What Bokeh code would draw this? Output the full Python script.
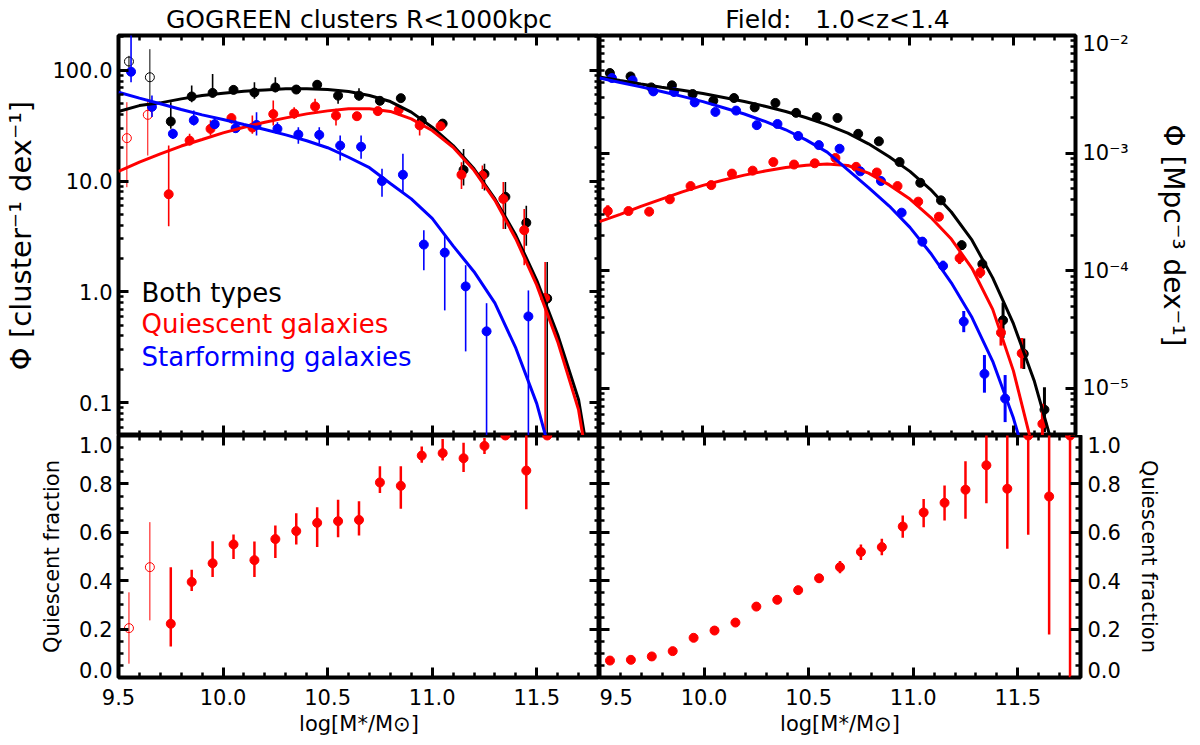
import math
from bokeh.plotting import figure
from bokeh.layouts import column, row
from bokeh.models import (ColumnDataSource, LinearAxis, LogAxis, Label, Title,
                          SingleIntervalTicker, FixedTicker, PrintfTickFormatter,
                          CustomJSTickFormatter)
from bokeh.embed import file_html
from bokeh.resources import INLINE

FONT = "DejaVu Sans"
RED, BLUE, BLACK = "#ff0000", "#0000ff", "#000000"
nan = float("nan")

# stellar mass bins, log(M*/Msun)
mass = [9.55, 9.65, 9.75, 9.85, 9.95, 10.05, 10.15, 10.25, 10.35, 10.45, 10.55,
        10.65, 10.75, 10.85, 10.95, 11.05, 11.15, 11.25, 11.35, 11.45, 11.55,
        11.65, 11.75]

# ---- GOGREEN clusters R<1000kpc, cluster^-1 dex^-1 (bins 9.55 .. 11.55)
clu_open = [1, 1, 0, 0, 0, 0, 0, 0, 0, 0, 0, 0, 0, 0, 0, 0, 0, 0, 0, 0, 0]
clu_all = [120, 86.5, 34.5, 58, 62.5, 66.5, 63, 70, 67, 74, 59, 59, 53, 56, 35, 33,
           12.6, 11.6, 7.2, 4.2, 0.87]
clu_all_hi = [135, 155, 51.5, 72.8, 92.7, 72.8, 78, 86.5, 72.8, 80.7, 67, 68.9, 57,
              61.2, 39, 35.3, 19.5, 14.3, 9.8, 6.0, 1.86]
clu_all_lo = [105, 50, 29.6, 51.5, 57.2, 61.2, 55.2, 63.4, 63.4, 67, 49.8, 53.3, 49.8,
              53.3, 31.8, 31.3, 9.1, 8.2, 3.7, 2.6, 0.01]
clu_q = [24.4, 39.6, 7.6, 23.2, 29.6, 37, 30.4, 40.2, 40.7, 47.1, 39, 38.5, 42.8, 44,
         31.8, 31.3, 11.4, 11.2, 6.9, 3.6, 0.88]
clu_q_hi = [51.5, 55.2, 20.9, 26.7, 35.3, 40.5, 39, 53.3, 46.4, 55.2, 44.9, 40.6, 45.5,
            48.1, 37.7, 34, 14.8, 13.8, 9.8, 5.6, 1.86]
clu_q_lo = [8.8, 17, 3.9, 20.9, 25.8, 32.9, 26.7, 31.8, 36.5, 40.6, 31.8, 36.5, 39, 39,
            25.8, 28.6, 8.5, 8.5, 3.7, 1.74, 0.01]
clu_sf = [97, 46.8, 26.7, 35.4, 32.6, 30, 32.1, 29.6, 26.3, 26.1, 20.9, 20.4, 10, 11.4,
          2.67, 2.26, 1.12, 0.44, nan, 0.6, nan]
clu_sf_hi = [300, 59.2, 29.6, 43.4, 36.5, 35.3, 41.9, 34, 30.6, 30.6, 25.8, 25.8, 12.9,
             17.6, 3.6, 3.24, 1.74, 0.79, nan, 1.03, nan]
clu_sf_lo = [78, 37.8, 24, 31.8, 29.6, 27.6, 25.8, 26.7, 21.7, 21.7, 15.3, 15.9, 7.2,
             7.7, 1.57, 0.68, 0.29, 0.01, nan, 0.01, nan]
clu_fq = [0.204, 0.456, 0.222, 0.395, 0.472, 0.550, 0.485, 0.572, 0.605, 0.639, 0.646,
          0.651, 0.806, 0.792, 0.917, 0.927, 0.906, 0.957, 1.0, 0.855, 1.0]
clu_fq_hi = [0.352, 0.642, 0.456, 0.445, 0.563, 0.591, 0.562, 0.628, 0.679, 0.704, 0.734,
             0.728, 0.873, 0.873, 0.955, 0.986, 0.970, 0.990, 1.0, 1.05, 1.0]
clu_fq_lo = [0.057, 0.236, 0.128, 0.357, 0.415, 0.490, 0.415, 0.494, 0.550, 0.539, 0.580,
             0.587, 0.762, 0.697, 0.887, 0.897, 0.849, 0.924, 1.0, 0.695, 1.0]

# ---- Field 1.0<z<1.4, Mpc^-3 dex^-1 (bins 9.55 .. 11.75), errors in dex
fld_all = [4.8e-3, 4.49e-3, 3.62e-3, 3.77e-3, 3.18e-3, 2.79e-3, 2.94e-3, 2.45e-3, 2.67e-3,
           2.2e-3, 2.02e-3, 1.99e-3, 1.46e-3, 1.26e-3, 8.4e-4, 5.6e-4, 3.97e-4, 1.65e-4,
           1.14e-4, 3.8e-5, 1.97e-5, 6.6e-6, nan]
fld_all_err = [0.015, 0.015, 0.015, 0.015, 0.015, 0.015, 0.015, 0.015, 0.015, 0.015,
               0.015, 0.015, 0.015, 0.015, 0.015, 0.02, 0.025, 0.04, 0.045, 0.15, 0.13,
               0.19, nan]
fld_sf = [4.35e-3, 4.15e-3, 3.35e-3, 3.31e-3, 2.7e-3, 2.24e-3, 2.3e-3, 1.73e-3, 1.77e-3,
          1.4e-3, 1.17e-3, 1.09e-3, 7.0e-4, 5.8e-4, 3.12e-4, 1.77e-4, 1.1e-4, 3.7e-5,
          1.33e-5, 8.2e-6, nan, nan, nan]
fld_sf_err = [0.015, 0.015, 0.015, 0.015, 0.015, 0.015, 0.015, 0.015, 0.015, 0.015,
              0.015, 0.015, 0.015, 0.015, 0.02, 0.04, 0.045, 0.09, 0.16, 0.2, nan, nan, nan]
fld_q = [3.22e-4, 3.22e-4, 3.18e-4, 4.05e-4, 5.25e-4, 5.35e-4, 6.7e-4, 7.1e-4, 8.4e-4,
         8.0e-4, 8.2e-4, 9.1e-4, 7.65e-4, 6.85e-4, 5.25e-4, 3.87e-4, 2.88e-4, 1.28e-4,
         9.7e-5, 2.98e-5, 1.99e-5, 5.0e-6, nan]
fld_q_err = [0.05, 0.03, 0.02, 0.02, 0.02, 0.02, 0.02, 0.02, 0.02, 0.02, 0.02, 0.02,
             0.02, 0.02, 0.02, 0.02, 0.025, 0.05, 0.05, 0.11, 0.13, 0.17, nan]
fld_fq = [0.070, 0.073, 0.087, 0.109, 0.164, 0.194, 0.227, 0.293, 0.321, 0.361, 0.410,
          0.456, 0.519, 0.539, 0.624, 0.682, 0.722, 0.776, 0.877, 0.780, 1.0, 0.748, 1.0]
fld_fq_hi = [0.078, 0.081, 0.095, 0.118, 0.174, 0.204, 0.238, 0.305, 0.334, 0.376, 0.428,
             0.481, 0.550, 0.573, 0.669, 0.738, 0.793, 0.894, 1.05, 1.05, 1.05, 1.05, 1.05]
fld_fq_lo = [0.062, 0.065, 0.079, 0.100, 0.154, 0.184, 0.216, 0.281, 0.308, 0.346, 0.390,
             0.431, 0.486, 0.505, 0.577, 0.621, 0.649, 0.656, 0.720, 0.532, 0.590, 0.178,
             0.0]

# ---- fitted mass functions
curve_mass = [9.5, 9.6, 9.7, 9.8, 9.9, 10.0, 10.1, 10.2, 10.3, 10.4, 10.5, 10.6, 10.7,
              10.8, 10.9, 11.0, 11.1, 11.2, 11.3, 11.4, 11.5, 11.6, 11.7, 11.8]
clu_all_fit = [42.5, 48, 50.8, 55.2, 59.2, 62.1, 64.7, 66.5, 68, 68, 67, 64.3, 59.2, 52.2,
               41.9, 30.6, 20.9, 12.9, 6.9, 3.24, 1.27, 0.41, 0.106, 0.008]
clu_q_fit = [12.2, 14.8, 17.6, 20.7, 23.7, 27.2, 30.6, 34, 37.2, 40.4, 43, 44.9, 44.9,
             42.5, 36.4, 28.6, 20.2, 12.5, 6.7, 3.0, 1.15, 0.355, 0.086, 0.006]
clu_sf_fit = [63.4, 56, 49.8, 44.3, 39.6, 36, 32.4, 29.2, 26.1, 23.1, 20, 16.4, 13.2, 9.5,
              6.9, 4.6, 2.6, 1.52, 0.79, 0.31, 0.098, 0.02, 0.002, 0.0001]
fld_all_fit = [4.44e-3, 4.14e-3, 3.87e-3, 3.63e-3, 3.42e-3, 3.21e-3, 2.97e-3, 2.75e-3,
               2.5e-3, 2.26e-3, 2.0e-3, 1.74e-3, 1.48e-3, 1.2e-3, 9.3e-4, 7.0e-4, 4.9e-4,
               3.16e-4, 1.82e-4, 8.7e-5, 3.55e-5, 1.17e-5, 2.8e-6, 2e-7]
fld_q_fit = [2.62e-4, 3.02e-4, 3.53e-4, 4.07e-4, 4.68e-4, 5.32e-4, 5.92e-4, 6.5e-4,
             7.05e-4, 7.55e-4, 7.9e-4, 8.1e-4, 7.85e-4, 6.76e-4, 5.37e-4, 4.07e-4,
             2.85e-4, 1.86e-4, 1.05e-4, 4.7e-5, 1.41e-5, 2.8e-6, 3e-7, 2e-8]
fld_sf_fit = [4.35e-3, 3.98e-3, 3.66e-3, 3.34e-3, 3.04e-3, 2.74e-3, 2.43e-3, 2.15e-3,
              1.86e-3, 1.58e-3, 1.29e-3, 1.02e-3, 7.2e-4, 5.1e-4, 3.55e-4, 2.34e-4,
              1.41e-4, 7.9e-5, 4.0e-5, 1.7e-5, 5.6e-6, 1.4e-6, 2e-7, 2e-8]

X_RANGE = (9.5, 11.8)
CLU_YR = (0.0505, 206.0)
FLD_YR = (3.98e-6, 1.0e-2)
FQ_YR = (0.0, 1.0)

# the labels at the ends of an axis sit a little inside the frame, as in the original
FLD_LABEL_AT = [1e-5, 1e-4, 1e-3, 8.4e-3]
FRAC_LABEL_AT = [0.03, 0.2, 0.4, 0.6, 0.8, 0.96]

SUPER_JS = """
if (tick > 5e-3) return "10\u207b\u00b2";
const s = String(Math.round(Math.log10(tick)));
const m = {"-": "\u207b", "0": "\u2070", "1": "\u00b9", "2": "\u00b2", "3": "\u00b3",
           "4": "\u2074", "5": "\u2075", "6": "\u2076", "7": "\u2077", "8": "\u2078",
           "9": "\u2079"};
return "10" + s.split("").map(c => m[c]).join("");
"""
FRAC_JS = "if (tick < 0.1) return '0.0'; if (tick > 0.9) return '1.0'; return tick.toFixed(1);"


def new_panel(y_type, y_rng, width, height, left, right, top, bottom):
    p = figure(width=width, height=height, x_range=X_RANGE, y_range=y_rng,
               y_axis_type=y_type, x_axis_location=None, y_axis_location=None,
               toolbar_location=None, output_backend="svg",
               min_border_left=left, min_border_right=right,
               min_border_top=top, min_border_bottom=bottom)
    p.grid.visible = False
    p.outline_line_color = "black"
    p.outline_line_width = 4
    p.outline_line_alpha = 1.0
    p.background_fill_color = "white"
    p.border_fill_color = "white"
    return p


def add_axis(p, cls, side, ticker, formatter=None, fixed=None, standoff=6,
             label=None, label_size="21px", label_standoff=5, ticks=True):
    ax = cls(ticker=ticker)
    if formatter is None:
        formatter = CustomJSTickFormatter(code="return ''")
    ax.formatter = formatter
    if fixed is not None:
        ax.fixed_location = fixed
    ax.axis_line_color = None
    ax.major_tick_in = 10 if ticks else 0
    ax.major_tick_out = 0
    ax.minor_tick_in = 5 if ticks else 0
    ax.minor_tick_out = 0
    ax.major_tick_line_width = 3
    ax.minor_tick_line_width = 2.5
    if not ticks:
        ax.major_tick_line_color = None
        ax.minor_tick_line_color = None
    ax.major_label_text_font = FONT
    ax.major_label_text_font_size = "21px"
    ax.major_label_text_color = "black"
    ax.major_label_standoff = standoff
    if label is not None:
        ax.axis_label = label
        ax.axis_label_text_font = FONT
        ax.axis_label_text_font_size = label_size
        ax.axis_label_text_font_style = "normal"
        ax.axis_label_text_color = "black"
        ax.axis_label_standoff = label_standoff
    p.add_layout(ax, side)


def add_title(p, s):
    p.add_layout(Title(text=s, align="center", text_font=FONT, text_font_size="25px",
                       text_font_style="normal", text_color="black", standoff=4),
                 "above")


def x_ticker():
    return SingleIntervalTicker(interval=0.5, num_minor_ticks=5)


def log_ticker(e0, e1):
    return FixedTicker(ticks=[10.0 ** e for e in range(e0, e1 + 1)],
                       minor_ticks=[k * 10.0 ** e for e in range(e0 - 1, e1 + 1)
                                    for k in range(2, 10)])


def frac_ticker():
    return SingleIntervalTicker(interval=0.2, num_minor_ticks=4)


def draw_points(p, n, values, lo, hi, color, dx, err_w, open_flags=None):
    xs = [m + dx for m in mass[:n]]
    flags = open_flags if open_flags is not None else [0] * n
    for want, w in ((0, err_w), (1, 1.0)):
        idx = [i for i in range(n) if flags[i] == want]
        if not idx:
            continue
        src = ColumnDataSource(dict(x=[xs[i] for i in idx], y=[values[i] for i in idx],
                                    lo=[lo[i] for i in idx], hi=[hi[i] for i in idx]))
        p.segment(x0="x", y0="lo", x1="x", y1="hi", source=src,
                  line_color=color, line_width=w)
        if want == 0:
            p.scatter(x="x", y="y", source=src, marker="circle", size=9,
                      fill_color=color, line_color=color)
        else:
            p.scatter(x="x", y="y", source=src, marker="circle", size=9,
                      fill_color=None, line_color=color, line_width=1)


def dex_bounds(values, err):
    lo = [v * 10 ** (-e) for v, e in zip(values, err)]
    hi = [v * 10 ** e for v, e in zip(values, err)]
    return lo, hi


def legend_text(p, y, s, color):
    p.add_layout(Label(x=23, y=y, x_units="screen", y_units="screen", text=s,
                       text_align="left", text_baseline="alphabetic",
                       text_font=FONT, text_font_size="26px", text_color=color))


MSTAR = "log[M*/M\u2299]"

# ---------------- top left: cluster mass functions
p_tl = new_panel("log", CLU_YR, 599, 435, 118, 0, 34, 0)
add_title(p_tl, "GOGREEN clusters R<1000kpc")
add_axis(p_tl, LogAxis, "left", log_ticker(-1, 2), PrintfTickFormatter(format="%.1f"),
         label="\u03a6 [cluster\u207b\u00b9 dex\u207b\u00b9]", label_size="29px",
         label_standoff=11)
add_axis(p_tl, LogAxis, "right", log_ticker(-1, 2), fixed=X_RANGE[1])
add_axis(p_tl, LinearAxis, "above", x_ticker(), fixed=CLU_YR[1])
add_axis(p_tl, LinearAxis, "below", x_ticker(), fixed=CLU_YR[0])

nc = len(clu_all)
draw_points(p_tl, nc, clu_all, clu_all_lo, clu_all_hi, BLACK, 0.0, 1.6, clu_open)
draw_points(p_tl, nc, clu_q, clu_q_lo, clu_q_hi, RED, -0.01, 1.6, clu_open)
draw_points(p_tl, nc, clu_sf, clu_sf_lo, clu_sf_hi, BLUE, 0.01, 1.6)
p_tl.line(curve_mass, clu_all_fit, line_color=BLACK, line_width=3)
p_tl.line(curve_mass, clu_q_fit, line_color=RED, line_width=3)
p_tl.line(curve_mass, clu_sf_fit, line_color=BLUE, line_width=3)

legend_text(p_tl, 143, "Both types", BLACK)
legend_text(p_tl, 112, "Quiescent galaxies", RED)
legend_text(p_tl, 79, "Starforming galaxies", BLUE)

# ---------------- top right: field mass functions
p_tr = new_panel("log", FLD_YR, 593, 435, 0, 112, 34, 0)
add_title(p_tr, "Field:\u00a0\u00a0 1.0<z<1.4")
add_axis(p_tr, LogAxis, "right", FixedTicker(ticks=FLD_LABEL_AT),
         CustomJSTickFormatter(code=SUPER_JS), standoff=7, ticks=False,
         label="\u03a6 [Mpc\u207b\u00b3 dex\u207b\u00b9]", label_size="28px",
         label_standoff=25)
add_axis(p_tr, LogAxis, "right", log_ticker(-5, -2), fixed=X_RANGE[1])
add_axis(p_tr, LogAxis, "left", log_ticker(-5, -2), fixed=X_RANGE[0])
add_axis(p_tr, LinearAxis, "above", x_ticker(), fixed=FLD_YR[1])
add_axis(p_tr, LinearAxis, "below", x_ticker(), fixed=FLD_YR[0])

nf = len(fld_all)
lo, hi = dex_bounds(fld_all, fld_all_err)
draw_points(p_tr, nf, fld_all, lo, hi, BLACK, 0.0, 3)
lo, hi = dex_bounds(fld_q, fld_q_err)
draw_points(p_tr, nf, fld_q, lo, hi, RED, -0.01, 3)
lo, hi = dex_bounds(fld_sf, fld_sf_err)
draw_points(p_tr, nf, fld_sf, lo, hi, BLUE, 0.01, 3)
p_tr.line(curve_mass, fld_all_fit, line_color=BLACK, line_width=3)
p_tr.line(curve_mass, fld_q_fit, line_color=RED, line_width=3)
p_tr.line(curve_mass, fld_sf_fit, line_color=BLUE, line_width=3)

# ---------------- bottom left: cluster quiescent fraction
p_bl = new_panel("linear", FQ_YR, 599, 307, 118, 0, 0, 65)
add_axis(p_bl, LinearAxis, "left", FixedTicker(ticks=FRAC_LABEL_AT),
         CustomJSTickFormatter(code=FRAC_JS), ticks=False,
         label="Quiescent fraction", label_standoff=12)
add_axis(p_bl, LinearAxis, "left", frac_ticker(), fixed=X_RANGE[0])
add_axis(p_bl, LinearAxis, "right", frac_ticker(), fixed=X_RANGE[1])
add_axis(p_bl, LinearAxis, "below", x_ticker(), PrintfTickFormatter(format="%.1f"),
         standoff=11, label=MSTAR, label_standoff=4)
add_axis(p_bl, LinearAxis, "above", x_ticker(), fixed=FQ_YR[1])
draw_points(p_bl, len(clu_fq), clu_fq, clu_fq_lo, clu_fq_hi, RED, 0.0, 2.5, clu_open)

# ---------------- bottom right: field quiescent fraction
p_br = new_panel("linear", FQ_YR, 593, 307, 0, 112, 0, 65)
add_axis(p_br, LinearAxis, "right", FixedTicker(ticks=FRAC_LABEL_AT),
         CustomJSTickFormatter(code=FRAC_JS), standoff=7, ticks=False,
         label="Quiescent fraction", label_standoff=13)
add_axis(p_br, LinearAxis, "right", frac_ticker(), fixed=X_RANGE[1])
add_axis(p_br, LinearAxis, "left", frac_ticker(), fixed=X_RANGE[0])
add_axis(p_br, LinearAxis, "below", x_ticker(), PrintfTickFormatter(format="%.1f"),
         standoff=11, label=MSTAR, label_standoff=4)
add_axis(p_br, LinearAxis, "above", x_ticker(), fixed=FQ_YR[1])
draw_points(p_br, len(fld_fq), fld_fq, fld_fq_lo, fld_fq_hi, RED, 0.0, 2.5)

layout = column(row(p_tl, p_tr), row(p_bl, p_br))
open("out.html", "w").write(file_html(layout, INLINE))
